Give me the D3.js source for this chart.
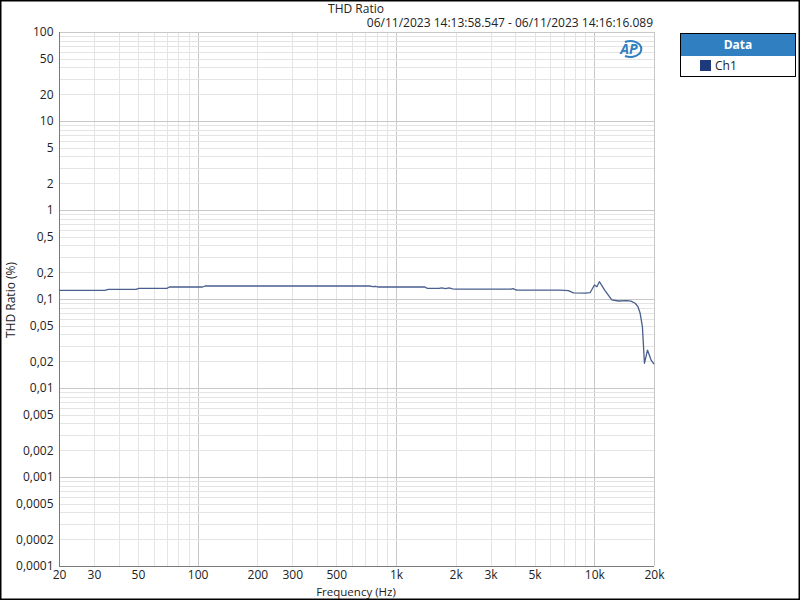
<!DOCTYPE html>
<html><head><meta charset="utf-8">
<script src="https://cdn.jsdelivr.net/npm/d3@7"></script>
<style>html,body{margin:0;padding:0;background:#fff;}svg{display:block;font-family:"Open Sans","Noto Sans",sans-serif;}</style>
</head><body>
<svg id="c" width="800" height="600"></svg>
<script>
const title = "THD Ratio";
const subtitle = "06/11/2023 14:13:58.547 - 06/11/2023 14:16:16.089";
const seriesName = "Ch1";
const freqHz = [20, 34, 35.5, 49, 50.5, 70, 72, 106, 109, 740, 760, 790, 810, 1400, 1440, 1650, 1700, 1780, 1850, 1930, 2000, 2180, 3800, 3900, 4000, 4082, 6730, 7400, 7848, 9000, 9526, 10010, 10300, 10610, 11300, 12250, 13230, 14590, 15300, 16070, 16600, 17030, 17480, 17900, 18540, 19340, 20000];
const thdPct = [0.1253, 0.1253, 0.1285, 0.1285, 0.1318, 0.1318, 0.1364, 0.1364, 0.140, 0.140, 0.1375, 0.1390, 0.1364, 0.1364, 0.1318, 0.1318, 0.1335, 0.1305, 0.1335, 0.1300, 0.1290, 0.1290, 0.1290, 0.1310, 0.1270, 0.1260, 0.1260, 0.1240, 0.1170, 0.1165, 0.1177, 0.1436, 0.1374, 0.1565, 0.1250, 0.0975, 0.0950, 0.0957, 0.0945, 0.0895, 0.0820, 0.0691, 0.0489, 0.01896, 0.0267, 0.0206, 0.0186];
const yTickVals = [100, 50, 20, 10, 5, 2, 1, 0.5, 0.2, 0.1, 0.05, 0.02, 0.01, 0.005, 0.002, 0.001, 0.0005, 0.0002, 0.0001];
const yTickLabels = ["100","50","20","10","5","2","1","0,5","0,2","0,1","0,05","0,02","0,01","0,005","0,002","0,001","0,0005","0,0002","0,0001"];
const xTickVals = [20, 30, 50, 100, 200, 300, 500, 1000, 2000, 3000, 5000, 10000, 20000];
const xTickLabels = ["20","30","50","100","200","300","500","1k","2k","3k","5k","10k","20k"];

const svg = d3.select("#c");
const L = 59, R = 654, T = 32, B = 566;
const x = d3.scaleLog().domain([20, 20000]).range([L, R]);
const y = d3.scaleLog().domain([0.0001, 100]).range([B, T]);

// outer border
svg.append("rect").attr("x",0.5).attr("y",0.5).attr("width",799).attr("height",599).attr("fill","#fff").attr("stroke","#000").attr("stroke-width",2);

// grid
const g = svg.append("g");
const xMinor = [];
for (let d = 10; d <= 10000; d *= 10) for (let k = 1; k <= 9; k++) { const v = d*k; if (v > 20 && v < 20000) xMinor.push(v); }
const yMinor = [];
for (let d = 0.0001; d < 100; d *= 10) for (let k = 1; k <= 9; k++) { const v = d*k; if (v > 0.0001*1.0001 && v < 100*0.999) yMinor.push(v); }
const isMajor = v => Math.abs(Math.log10(v) - Math.round(Math.log10(v))) < 1e-6;
g.selectAll(".xg").data(xMinor).enter().append("line")
  .attr("x1", d => Math.round(x(d))+0.5).attr("x2", d => Math.round(x(d))+0.5).attr("y1", T).attr("y2", B)
  .attr("stroke", d => isMajor(d) ? "#c8c8c8" : "#e4e4e4").attr("stroke-width",1);
g.selectAll(".yg").data(yMinor).enter().append("line")
  .attr("y1", d => Math.round(y(d))+0.5).attr("y2", d => Math.round(y(d))+0.5).attr("x1", L).attr("x2", R)
  .attr("stroke", d => isMajor(d) ? "#c8c8c8" : "#e4e4e4").attr("stroke-width",1);

// plot frame
svg.append("line").attr("x1",L).attr("x2",R).attr("y1",T+0.5).attr("y2",T+0.5).attr("stroke","#c8c8c8");
svg.append("line").attr("x1",R+0.5).attr("x2",R+0.5).attr("y1",T).attr("y2",B).attr("stroke","#c8c8c8");

// axes
const yAxis = d3.axisLeft(y).tickValues(yTickVals).tickFormat((d,i) => yTickLabels[i]).tickSize(0).tickPadding(6);
const ya = svg.append("g").attr("transform", `translate(${L+0.5},0)`).call(yAxis);
const xAxis = d3.axisBottom(x).tickValues(xTickVals).tickFormat((d,i) => xTickLabels[i]).tickSize(0).tickPadding(4);
const xa = svg.append("g").attr("transform", `translate(0,${B+0.5})`).call(xAxis);
[ya, xa].forEach(a => {
  a.select(".domain").attr("stroke","#7a7a7a");
  a.selectAll("text").attr("fill","#222").style("font-size","12px").style("font-family",'"Open Sans","Noto Sans",sans-serif');
});
ya.select(".domain").attr("d", `M0,${T}V${B}`);
xa.select(".domain").attr("d", `M${L},0H${R}`);

// line
const line = d3.line().x((d,i) => x(freqHz[i])).y(d => y(d));
svg.append("path").datum(thdPct).attr("d", line).attr("fill","none").attr("stroke","#4a5f8e").attr("stroke-width",1.3).attr("stroke-linejoin","round");

// titles
svg.append("text").attr("x",356).attr("y",13).attr("text-anchor","middle").attr("fill","#222").style("font-size","12px").text(title);
svg.append("text").attr("x",653).attr("y",27).attr("text-anchor","end").attr("fill","#222").style("font-size","12px").text(subtitle);
svg.append("text").attr("transform","translate(15,300) rotate(-90)").attr("text-anchor","middle").attr("fill","#222").style("font-size","12px").text("THD Ratio (%)");
svg.append("text").attr("x",356).attr("y",596).attr("text-anchor","middle").attr("fill","#222").style("font-size","11.5px").text("Frequency (Hz)");

// AP logo
const logo = svg.append("g").attr("transform","translate(631,49)");
logo.append("path").attr("d","M-6,-7 A11,8 0 1,1 -6,7").attr("fill","none").attr("stroke","#2f7fc1").attr("stroke-width",2);
logo.append("text").attr("x",-2).attr("y",5).attr("text-anchor","middle").attr("fill","#2f7fc1").style("font-size","14px").style("font-weight","bold").style("font-style","italic").text("AP");

// legend
const lg = svg.append("g");
lg.append("rect").attr("x",680.5).attr("y",33.5).attr("width",115).attr("height",43).attr("fill","#fff").attr("stroke","#000");
lg.append("rect").attr("x",681).attr("y",34).attr("width",114).attr("height",22).attr("fill","#2f7fc1");
lg.append("text").attr("x",738).attr("y",49).attr("text-anchor","middle").attr("fill","#fff").style("font-size","12px").style("font-weight","bold").text("Data");
lg.append("rect").attr("x",700).attr("y",60).attr("width",11).attr("height",11).attr("fill","#1f3a7a");
lg.append("text").attr("x",715).attr("y",70).attr("fill","#222").style("font-size","12px").text(seriesName);
</script>
</body></html>
